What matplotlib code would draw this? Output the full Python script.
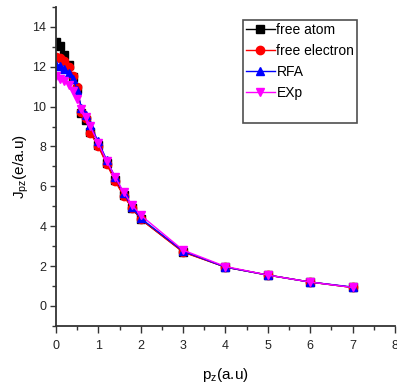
import matplotlib
matplotlib.use("Agg")
import matplotlib.pyplot as plt
from matplotlib.lines import Line2D
from matplotlib.ticker import MultipleLocator

plt.rcParams['font.family'] = ['Liberation Sans', 'DejaVu Sans']

pz = [0.0, 0.1, 0.2, 0.3, 0.4, 0.5, 0.6, 0.7, 0.8, 1.0, 1.2, 1.4, 1.6, 1.8, 2.0, 3.0, 4.0, 5.0, 6.0, 7.0]

free_atom = [13.25, 13.05, 12.6, 12.1, 11.5, 10.9, 9.7, 9.35, 8.75, 8.05, 7.15, 6.3, 5.55, 4.9, 4.35, 2.72, 1.95, 1.55, 1.2, 0.93]
free_electron = [12.5, 12.45, 12.3, 12.0, 11.55, 11.0, 9.75, 9.45, 8.7, 8.0, 7.1, 6.25, 5.5, 4.9, 4.35, 2.7, 1.95, 1.55, 1.2, 0.93]
rfa = [12.1, 12.05, 11.9, 11.7, 11.4, 10.85, 9.95, 9.6, 9.1, 8.25, 7.3, 6.45, 5.65, 4.95, 4.4, 2.75, 1.95, 1.55, 1.2, 0.95]
exp = [11.55, 11.4, 11.3, 11.1, 10.8, 10.4, 9.9, 9.5, 9.05, 8.15, 7.25, 6.45, 5.7, 5.05, 4.55, 2.8, 1.98, 1.55, 1.2, 0.93]

fig = plt.figure(figsize=(3.97, 3.83), dpi=100)
ax = fig.add_axes([0.141, 0.149, 0.854, 0.833])

h1, = ax.plot(pz, free_atom, color="black", marker="s", markersize=6, linewidth=1, label="free atom")
h2, = ax.plot(pz, free_electron, color="red", marker="o", markersize=6, linewidth=1, label="free electron")
h3, = ax.plot(pz, rfa, color="blue", marker="^", markersize=6, linewidth=1, label="RFA")
h4, = ax.plot(pz, exp, color="magenta", marker="v", markersize=6, linewidth=1, label="EXp")

ax.set_xlim(0, 8)
ax.set_ylim(-1, 15)
ax.xaxis.set_major_locator(MultipleLocator(1))
ax.xaxis.set_minor_locator(MultipleLocator(0.5))
ax.yaxis.set_major_locator(MultipleLocator(2))
ax.yaxis.set_minor_locator(MultipleLocator(1))
ax.spines["top"].set_visible(False)
ax.spines["right"].set_visible(False)
for s in ["left", "bottom"]:
    ax.spines[s].set_linewidth(1.3)
    ax.spines[s].set_color("#333333")
ax.tick_params(which="major", direction="out", length=5, width=1, labelsize=9, colors="#333333", labelcolor="#222222")
ax.tick_params(axis="x", which="major", pad=5)
ax.tick_params(axis="y", which="major", length=4, pad=3)
ax.tick_params(which="minor", direction="out", length=3, width=1, colors="#333333")

ax.set_xlabel(r"p$_\mathregular{z}$(a.u)", fontsize=11, labelpad=10)
ax.set_ylabel(r"J$_\mathregular{pz}$(e/a.u)", fontsize=11, labelpad=1)

blank = Line2D([], [], linestyle="none")
leg = ax.legend([h1, h2, h3, h4, blank], ["free atom", "free electron", "RFA", "EXp", " "],
                loc="upper left", bbox_to_anchor=(0.552, 0.959), borderaxespad=0,
                fontsize=10, frameon=True, fancybox=False, borderpad=0.2,
                handlelength=2.1, handletextpad=0.1, labelspacing=0.5)
leg.get_frame().set_edgecolor("#222222")
leg.get_frame().set_linewidth(1.2)

fig.savefig("out.png", dpi=100)
